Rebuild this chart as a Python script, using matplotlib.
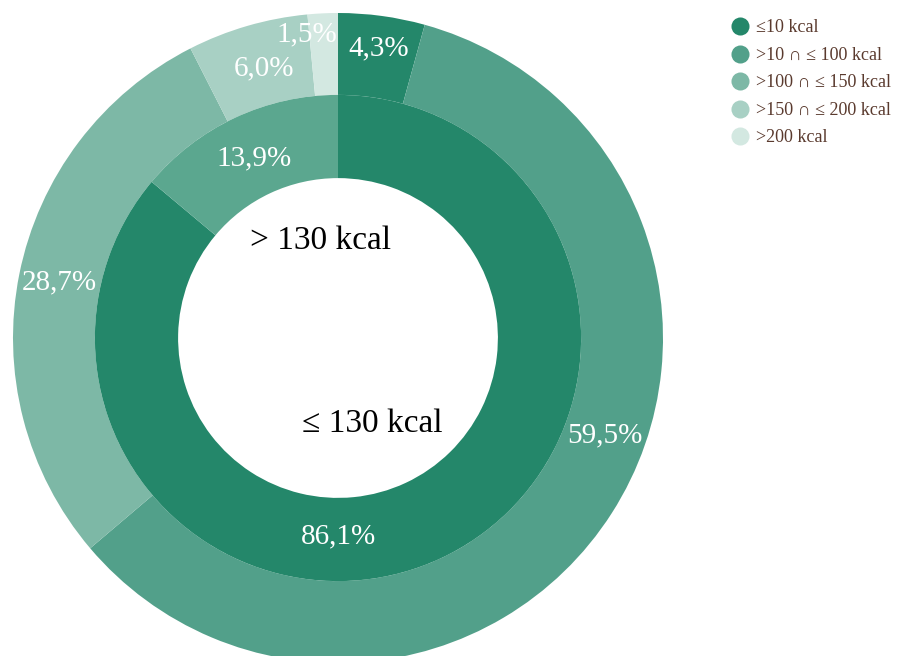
"""Nested donut: share of products by calorie class."""

import numpy as np
import matplotlib
matplotlib.use("Agg")
import matplotlib.pyplot as plt
from matplotlib.lines import Line2D


OUTER_LABELS = ["≤10 kcal", ">10 ∩ ≤ 100 kcal", ">100 ∩ ≤ 150 kcal",
                ">150 ∩ ≤ 200 kcal", ">200 kcal"]
OUTER_VALUES = [4.3, 59.5, 28.7, 6.0, 1.5]
INNER_LABELS = ["≤ 130 kcal", "> 130 kcal"]
INNER_VALUES = [86.1, 13.9]

OUTER_COLORS = ["#24876A", "#52A08A", "#7DB8A6", "#A8D0C4", "#D3E8E1"]
INNER_COLORS = ["#24876A", "#5BA78F"]
TEXT_BROWN = "#5A3A2E"
SERIF = ["Liberation Serif", "DejaVu Serif"]

# some labels are nudged: (degrees clockwise from 12 o'clock, radius)
LABEL_OVERRIDE = {
    ("outer", 0): (7.9, 0.90),
    ("outer", 1): (110.0, 0.875),
    ("outer", 3): (344.7, 0.86),
    ("outer", 4): (354.2, 0.94),
    ("inner", 0): (180.0, 0.61),
}


def label_ring(ax, values, ring, radius):
    total = sum(values)
    start = 0.0
    for i, value in enumerate(values):
        span = value / total * 360
        angle, r = LABEL_OVERRIDE.get((ring, i), (start + span / 2, radius))
        rad = np.deg2rad(angle)
        ax.text(r * np.sin(rad), r * np.cos(rad),
                f"{value:.1f}".replace(".", ",") + "%",
                ha="center", va="center", color="white", fontsize=21,
                family=SERIF)
        start += span


fig = plt.figure(figsize=(9.08, 6.56), dpi=100)
ax = fig.add_axes([13 / 908, -7 / 656, 650 / 908, 650 / 656])

ax.pie(OUTER_VALUES, colors=OUTER_COLORS, radius=1.0, startangle=90,
       counterclock=False, wedgeprops=dict(width=0.252, linewidth=0))
ax.pie(INNER_VALUES, colors=INNER_COLORS, radius=0.748, startangle=90,
       counterclock=False, wedgeprops=dict(width=0.256, linewidth=0))
ax.set_xlim(-1, 1)
ax.set_ylim(-1, 1)
ax.set_aspect("equal")
ax.axis("off")

label_ring(ax, OUTER_VALUES, "outer", 0.875)
label_ring(ax, INNER_VALUES, "inner", 0.61)

ax.text(-0.055, 0.30, INNER_LABELS[1], ha="center", va="center",
        fontsize=24, family=SERIF, color="black")
ax.text(0.105, -0.265, INNER_LABELS[0], ha="center", va="center",
        fontsize=24, family=SERIF, color="black")

handles = [Line2D([], [], linestyle="none", marker="o", markersize=13,
                  markerfacecolor=c, markeredgewidth=0) for c in OUTER_COLORS]
leg = fig.legend(handles, OUTER_LABELS, loc="upper left",
                 bbox_to_anchor=(717 / 908, 1 - 5 / 656), frameon=False,
                 handlelength=1.0, handletextpad=0.35, labelspacing=0.58,
                 borderpad=0.3, prop={"family": SERIF, "size": 13})
for text in leg.get_texts():
    text.set_color(TEXT_BROWN)

fig.savefig("out.png", dpi=100, facecolor="white")
